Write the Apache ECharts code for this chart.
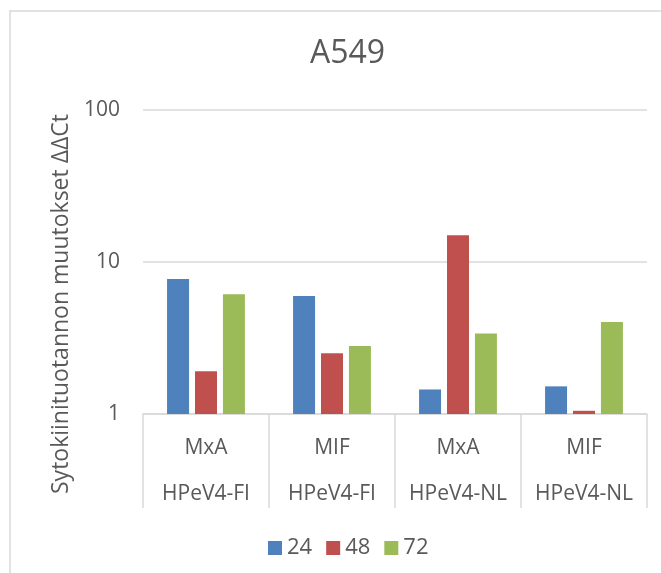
<!DOCTYPE html>
<html>
<head>
<meta charset="utf-8">
<script src="https://cdn.jsdelivr.net/npm/echarts@6/dist/echarts.min.js"></script>
<style>
  html, body { margin: 0; padding: 0; background: #ffffff; }
  #chart { width: 661px; height: 573px; }
</style>
</head>
<body>
<div id="chart"></div>
<script>
// Cytokine expression fold changes (ΔΔCt) in A549 cells, log scale
const genes = ['MxA', 'MIF', 'MxA', 'MIF'];
const strains = ['HPeV4-FI', 'HPeV4-FI', 'HPeV4-NL', 'HPeV4-NL'];
const seriesNames = ['24', '48', '72'];
const values24 = [7.73, 5.98, 1.45, 1.52];
const values48 = [1.91, 2.51, 15.0, 1.05];
const values72 = [6.13, 2.80, 3.38, 4.03];
const yTicks = [1, 10, 100];

const categories = genes.map((g, i) => g + '\n' + strains[i]);
const seriesValues = [values24, values48, values72];
const colors = ['#4F81BD', '#C0504D', '#9BBB59'];
const textColor = '#595959';
const lineColor = '#D9D9D9';
const fontFamily = '"Open Sans", "Noto Sans", sans-serif';

const chart = echarts.init(document.getElementById('chart'));

chart.setOption({
  animation: false,
  backgroundColor: '#ffffff',
  color: colors,
  textStyle: { fontFamily: fontFamily },
  title: {
    text: 'A549',
    left: 305,
    top: 33,
    textStyle: { fontSize: 32, fontWeight: 'normal', color: textColor, fontFamily: fontFamily }
  },
  legend: {
    data: seriesNames,
    left: 263,
    top: 532,
    itemWidth: 14,
    itemHeight: 14,
    itemGap: 14,
    icon: 'rect',
    textStyle: { fontSize: 22, color: textColor, fontFamily: fontFamily }
  },
  grid: { left: 143, right: 14, top: 110, bottom: 159 },
  xAxis: {
    type: 'category',
    data: categories,
    axisLine: { lineStyle: { color: lineColor, width: 1.5 } },
    axisTick: { show: true, length: 94, interval: 0, lineStyle: { color: lineColor, width: 1.5 } },
    axisLabel: {
      interval: 0,
      margin: 11,
      fontSize: 21,
      lineHeight: 46,
      color: textColor,
      fontFamily: fontFamily
    }
  },
  yAxis: {
    type: 'log',
    logBase: 10,
    min: yTicks[0],
    max: yTicks[yTicks.length - 1],
    axisLine: { show: false },
    axisTick: { show: false },
    splitLine: { lineStyle: { color: lineColor, width: 1.5 } },
    axisLabel: { fontSize: 21, color: textColor, margin: 23, fontFamily: fontFamily }
  },
  graphic: [
    {
      type: 'rect',
      shape: { x: 10, y: 11, width: 700, height: 620 },
      style: { fill: 'none', stroke: lineColor, lineWidth: 1.5 },
      silent: true
    },
    {
      type: 'text',
      x: 61,
      y: 304,
      rotation: Math.PI / 2,
      style: {
        text: 'Sytokiinituotannon muutokset ΔΔCt',
        fontSize: 23,
        fill: textColor,
        fontFamily: fontFamily,
        textAlign: 'center',
        textVerticalAlign: 'middle'
      }
    }
  ],
  series: seriesNames.map((name, i) => ({
    name: name,
    type: 'bar',
    data: seriesValues[i],
    barWidth: 22,
    barGap: '27%',
    itemStyle: { color: colors[i] }
  }))
});
</script>
</body>
</html>
